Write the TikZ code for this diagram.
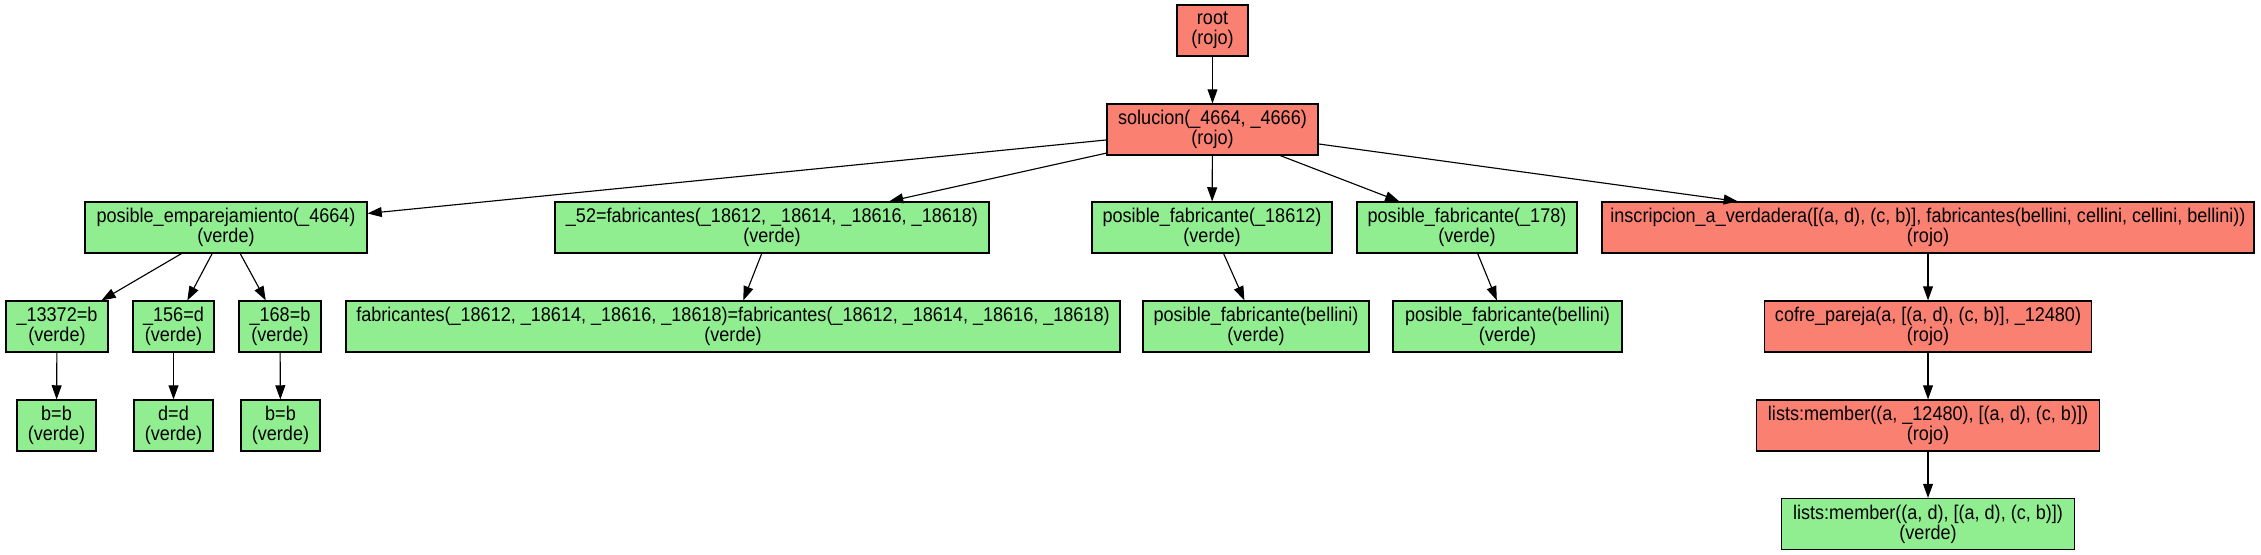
\documentclass[tikz,border=0pt]{standalone}
\usepackage{fontspec}
\setmainfont{Liberation Sans}[FakeStretch=0.91]
\usetikzlibrary{arrows.meta}
\definecolor{rojoc}{HTML}{FA8072}
\definecolor{verdec}{HTML}{90EE90}
\tikzset{
  gnode/.style={draw=black, line width=0.8pt, align=center, inner sep=0pt,
    minimum height=51*0.7056pt, font=\fontsize{14}{14.2}\selectfont},
  rojo/.style={gnode, fill=rojoc},
  verde/.style={gnode, fill=verdec},
  mw/.style={minimum width=#1*0.7056pt},
  edge/.style={-{Triangle[length=10pt,width=7pt]}, line width=0.8pt}
}
\begin{document}
\begin{tikzpicture}[x=0.7056pt, y=-0.7056pt]
\useasboundingbox (0,0) rectangle (2261,555);
% level 0
\node[rojo, mw=71] (root) at (1212.5,30.5) {root\\(rojo)};
% level 1
\node[rojo, mw=211] (sol) at (1212.5,129.5) {solucion(\_4664, \_4666)\\(rojo)};
% level 2
\node[verde, mw=282] (pe) at (226,227.5) {posible\_emparejamiento(\_4664)\\(verde)};
\node[verde, mw=434] (f52) at (772,227.5) {\_52=fabricantes(\_18612, \_18614, \_18616, \_18618)\\(verde)};
\node[verde, mw=240] (pf1) at (1212,227.5) {posible\_fabricante(\_18612)\\(verde)};
\node[verde, mw=220] (pf2) at (1467,227.5) {posible\_fabricante(\_178)\\(verde)};
\node[rojo, mw=652] (ins) at (1928,227.5) {inscripcion\_a\_verdadera([(a, d), (c, b)], fabricantes(bellini, cellini, cellini, bellini))\\(rojo)};
% level 3
\node[verde, mw=102] (a1) at (57,326.5) {\_13372=b\\(verde)};
\node[verde, mw=81] (a2) at (173.5,326.5) {\_156=d\\(verde)};
\node[verde, mw=82] (a3) at (280,326.5) {\_168=b\\(verde)};
\node[verde, mw=774] (fab) at (733,326.5) {fabricantes(\_18612, \_18614, \_18616, \_18618)=fabricantes(\_18612, \_18614, \_18616, \_18618)\\(verde)};
\node[verde, mw=226] (pb1) at (1256,326.5) {posible\_fabricante(bellini)\\(verde)};
\node[verde, mw=229] (pb2) at (1507.5,326.5) {posible\_fabricante(bellini)\\(verde)};
\node[rojo, mw=327] (cof) at (1928,326.5) {cofre\_pareja(a, [(a, d), (c, b)], \_12480)\\(rojo)};
% level 4
\node[verde, mw=79] (b1) at (56.5,425.5) {b=b\\(verde)};
\node[verde, mw=79] (d1) at (173.5,425.5) {d=d\\(verde)};
\node[verde, mw=79] (b2) at (280.5,425.5) {b=b\\(verde)};
\node[rojo, mw=343] (lm1) at (1928,425.5) {lists:member((a, \_12480), [(a, d), (c, b)])\\(rojo)};
% level 5
\node[verde, mw=293] (lm2) at (1928,524) {lists:member((a, d), [(a, d), (c, b)])\\(verde)};
% edges
\draw[edge] (root) -- (sol);
\draw[edge] (sol) -- (pe);
\draw[edge] (sol) -- (f52);
\draw[edge] (sol) -- (pf1);
\draw[edge] (sol) -- (pf2);
\draw[edge] (sol) -- (ins);
\draw[edge] (pe) -- (a1);
\draw[edge] (pe) -- (a2);
\draw[edge] (pe) -- (a3);
\draw[edge] (f52) -- (fab);
\draw[edge] (pf1) -- (pb1);
\draw[edge] (pf2) -- (pb2);
\draw[edge] (ins) -- (cof);
\draw[edge] (a1) -- (b1);
\draw[edge] (a2) -- (d1);
\draw[edge] (a3) -- (b2);
\draw[edge] (cof) -- (lm1);
\draw[edge] (lm1) -- (lm2);
\end{tikzpicture}
\end{document}
